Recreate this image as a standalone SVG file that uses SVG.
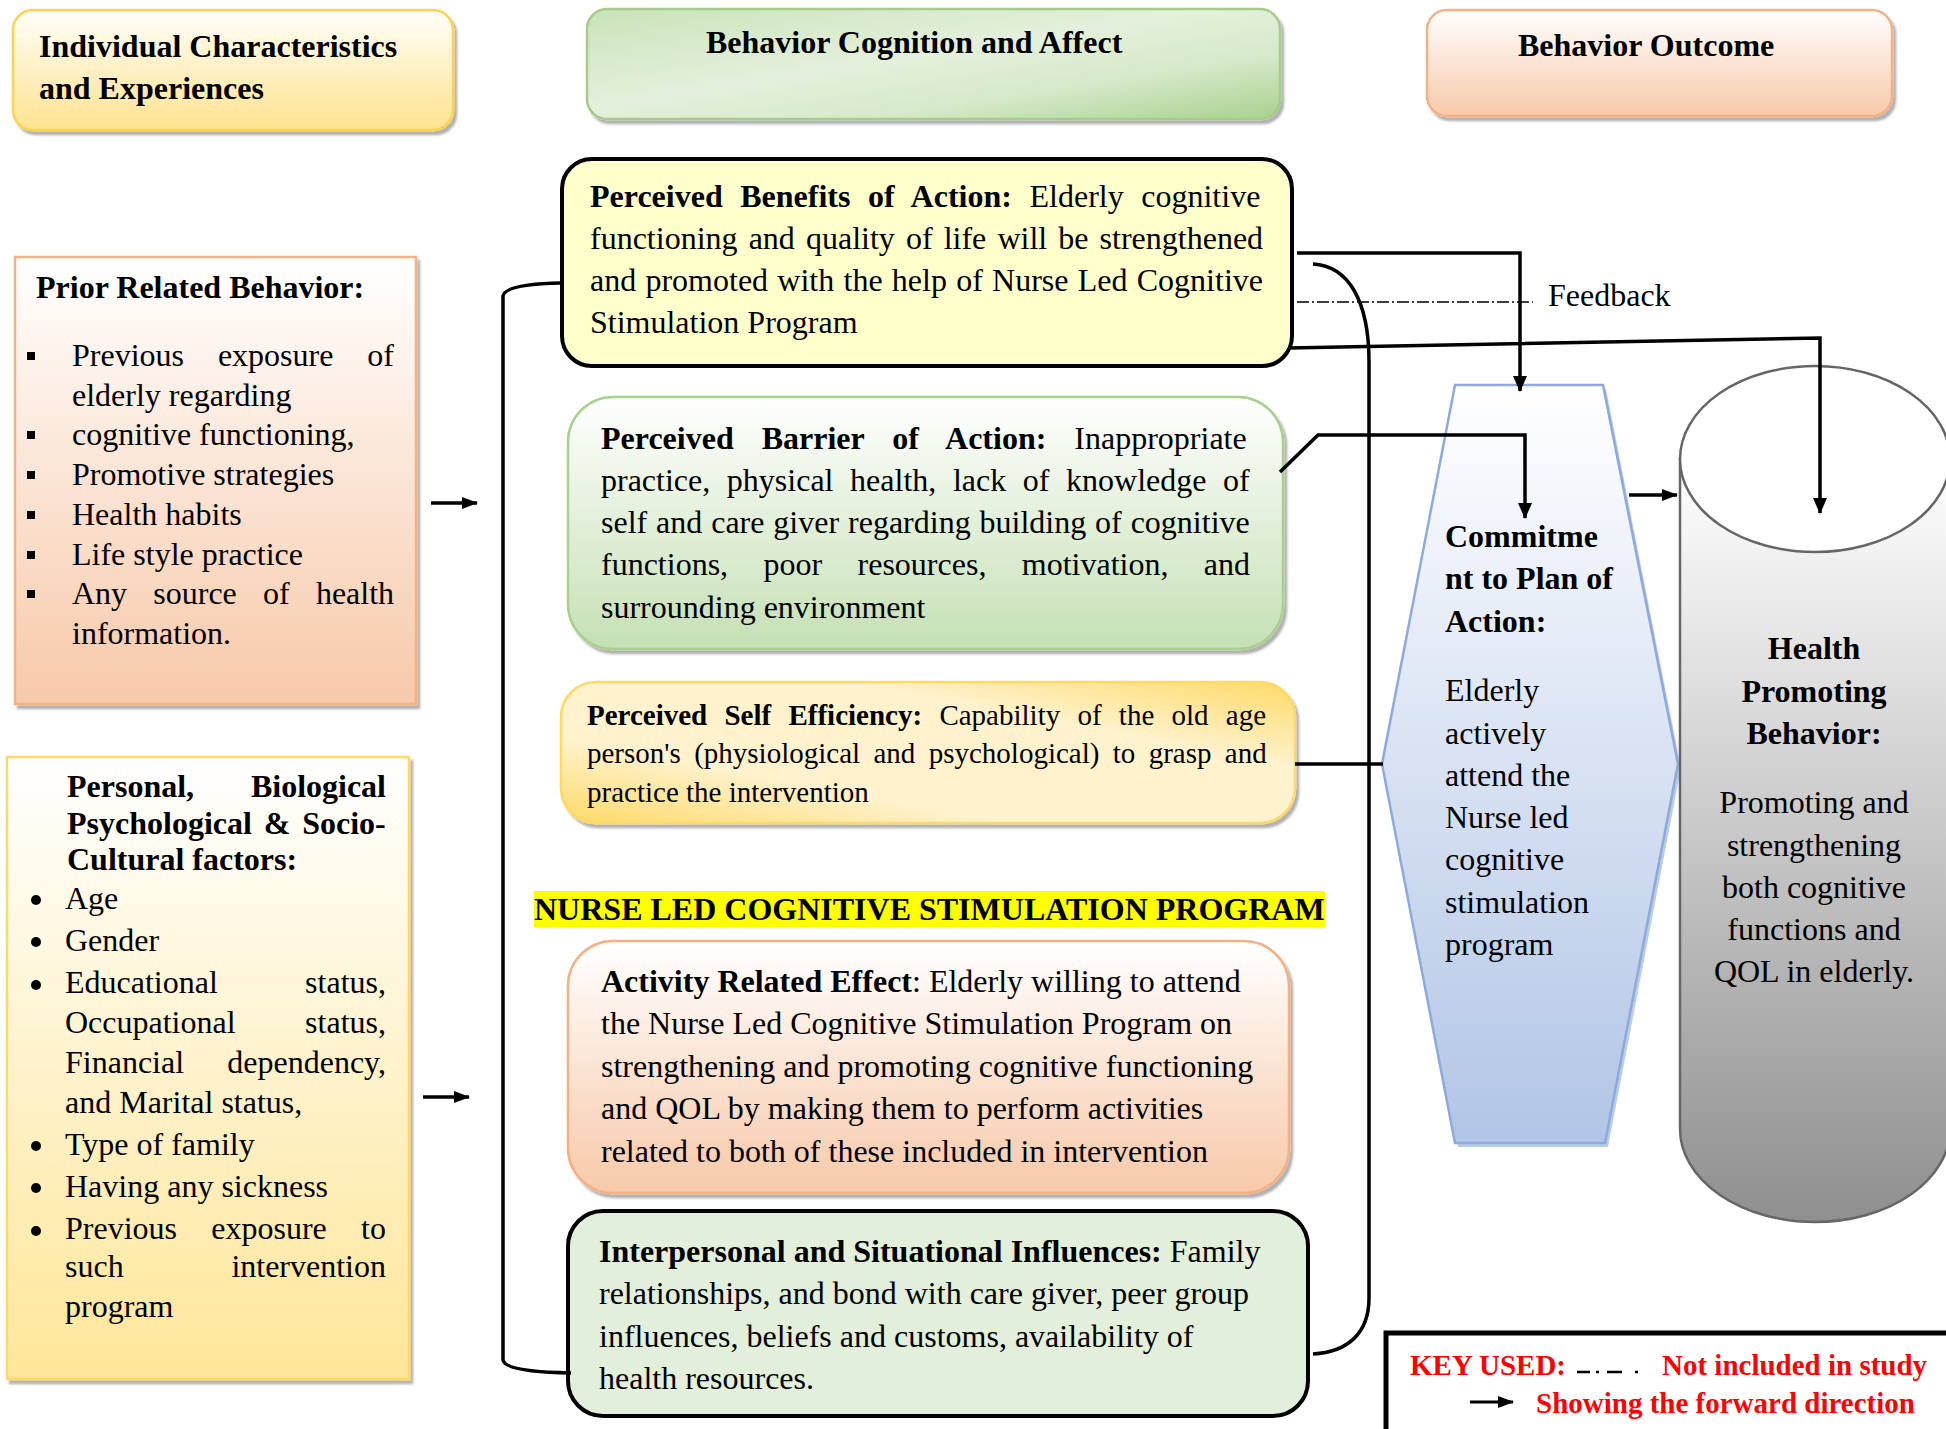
<svg xmlns="http://www.w3.org/2000/svg" width="1946" height="1429" viewBox="0 0 1946 1429">
<defs>
<style>
text{font-family:"Liberation Serif","Times New Roman",serif;font-size:32px;fill:#000}
.b{font-weight:bold}
.k{font-weight:bold;font-size:29px;fill:#ff0000}
.s29{font-size:29px}
.ln{fill:none;stroke:#000;stroke-width:3.5}
</style>
<linearGradient id="gY" x1="0" y1="0" x2="0" y2="1"><stop offset="0" stop-color="#fffefa"/><stop offset="1" stop-color="#ffe38f"/></linearGradient>
<linearGradient id="gY2" x1="0" y1="0" x2="0" y2="1"><stop offset="0" stop-color="#ffffff"/><stop offset="1" stop-color="#ffe699"/></linearGradient>
<linearGradient id="gG" x1="0" y1="0" x2="1" y2="1"><stop offset="0" stop-color="#c9e3b9"/><stop offset="0.45" stop-color="#e4f0dc"/><stop offset="0.7" stop-color="#d6e9ca"/><stop offset="1" stop-color="#a9d18e"/></linearGradient>
<linearGradient id="gG2" x1="0" y1="0" x2="0" y2="1"><stop offset="0" stop-color="#ffffff"/><stop offset="1" stop-color="#c5e0b4"/></linearGradient>
<linearGradient id="gP" x1="0" y1="0" x2="0" y2="1"><stop offset="0" stop-color="#ffffff"/><stop offset="1" stop-color="#f7c9a9"/></linearGradient>
<linearGradient id="gE" x1="0" y1="1" x2="1" y2="0"><stop offset="0" stop-color="#ffd966"/><stop offset="0.3" stop-color="#fff2cc"/><stop offset="0.7" stop-color="#fff2cc"/><stop offset="1" stop-color="#ffd966"/></linearGradient>
<linearGradient id="gB" x1="0" y1="0" x2="0" y2="1"><stop offset="0" stop-color="#ffffff"/><stop offset="1" stop-color="#b1c5e6"/></linearGradient>
<linearGradient id="gC" x1="0" y1="0" x2="0" y2="1"><stop offset="0" stop-color="#ffffff"/><stop offset="1" stop-color="#8f8f8f"/></linearGradient>
<filter id="sh" x="-5%" y="-5%" width="112%" height="120%"><feDropShadow dx="3" dy="4" stdDeviation="1.2" flood-color="#000" flood-opacity="0.3"/></filter>
<marker id="arr" viewBox="0 0 16 14" refX="15" refY="7" markerWidth="16" markerHeight="14" markerUnits="userSpaceOnUse" orient="auto"><path d="M0,0 L16,7 L0,14 z" fill="#000"/></marker>
<marker id="arrs" viewBox="0 0 16 12" refX="15" refY="6" markerWidth="16" markerHeight="12" markerUnits="userSpaceOnUse" orient="auto"><path d="M0,0 L16,6 L0,12 z" fill="#000"/></marker>
</defs>
<rect width="1946" height="1429" fill="#fff"/>

<g id="hdr-individual">
<rect x="13" y="10" width="440" height="120" rx="20" fill="url(#gY)" stroke="#ffd24d" stroke-width="2.5" filter="url(#sh)"/>
<text class="b" x="39" y="57">Individual Characteristics</text>
<text class="b" x="39" y="99">and Experiences</text>
</g>

<g id="hdr-cognition">
<rect x="587" y="9" width="693" height="110" rx="20" fill="url(#gG)" stroke="#a6cc8a" stroke-width="2.5" filter="url(#sh)"/>
<text class="b" x="706" y="53">Behavior Cognition and Affect</text>
</g>

<g id="hdr-outcome">
<rect x="1427" y="10" width="465" height="106" rx="20" fill="url(#gP)" stroke="#f4b183" stroke-width="2.5" filter="url(#sh)"/>
<text class="b" x="1518" y="56">Behavior Outcome</text>
</g>

<g id="prior">
<rect x="15" y="257" width="401" height="447" fill="url(#gP)" stroke="#f4b183" stroke-width="2.5" filter="url(#sh)"/>
<text class="b" x="36" y="298">Prior Related Behavior:</text>
<g fill="#000">
<rect x="27" y="352" width="8" height="8"/>
<rect x="27" y="431" width="8" height="8"/>
<rect x="27" y="471" width="8" height="8"/>
<rect x="27" y="511" width="8" height="8"/>
<rect x="27" y="551" width="8" height="8"/>
<rect x="27" y="590" width="8" height="8"/>
</g>
<text x="72" y="366" word-spacing="25.9">Previous exposure of</text>
<text x="72" y="406">elderly regarding</text>
<text x="72" y="445">cognitive functioning,</text>
<text x="72" y="485">Promotive strategies</text>
<text x="72" y="525">Health habits</text>
<text x="72" y="565">Life style practice</text>
<text x="72" y="604" word-spacing="18.2">Any source of health</text>
<text x="72" y="644">information.</text>
</g>

<g id="personal">
<rect x="7" y="757" width="402" height="622" fill="url(#gY2)" stroke="#ffd966" stroke-width="2.5" filter="url(#sh)"/>
<text class="b" x="67" y="797">Personal,</text>
<text class="b" x="386" y="797" text-anchor="end">Biological</text>
<text class="b" x="67" y="834" word-spacing="3.8">Psychological &amp; Socio-</text>
<text class="b" x="67" y="870">Cultural factors:</text>
<g fill="#000">
<circle cx="36" cy="900" r="5"/>
<circle cx="36" cy="942" r="5"/>
<circle cx="36" cy="985" r="5"/>
<circle cx="36" cy="1146" r="5"/>
<circle cx="36" cy="1188" r="5"/>
<circle cx="36" cy="1231" r="5"/>
</g>
<text x="65" y="909">Age</text>
<text x="65" y="951">Gender</text>
<text x="65" y="993">Educational</text><text x="386" y="993" text-anchor="end">status,</text>
<text x="65" y="1033">Occupational</text><text x="386" y="1033" text-anchor="end">status,</text>
<text x="65" y="1073">Financial</text><text x="386" y="1073" text-anchor="end">dependency,</text>
<text x="65" y="1113">and Marital status,</text>
<text x="65" y="1155">Type of family</text>
<text x="65" y="1197">Having any sickness</text>
<text x="65" y="1239" word-spacing="26.3">Previous exposure to</text>
<text x="65" y="1277">such</text><text x="386" y="1277" text-anchor="end">intervention</text>
<text x="65" y="1317">program</text>
</g>

<g id="benefits">
<rect x="562" y="159" width="730" height="207" rx="30" fill="#ffffcc" stroke="#000" stroke-width="4"/>
<text x="590" y="207" word-spacing="9.6"><tspan class="b">Perceived Benefits of Action:</tspan> Elderly cognitive</text>
<text x="590" y="249" word-spacing="3.1">functioning and quality of life will be strengthened</text>
<text x="590" y="291" word-spacing="1.25">and promoted with the help of Nurse Led Cognitive</text>
<text x="590" y="333">Stimulation Program</text>
</g>

<g id="barrier">
<rect x="568" y="397" width="715" height="252" rx="45" fill="url(#gG2)" stroke="#a9d18e" stroke-width="2.5" filter="url(#sh)"/>
<text x="601" y="449" word-spacing="20"><tspan class="b">Perceived Barrier of Action:</tspan> Inappropriate</text>
<text x="601" y="491" word-spacing="8.6">practice, physical health, lack of knowledge of</text>
<text x="601" y="533" word-spacing="0.9">self and care giver regarding building of cognitive</text>
<text x="601" y="575" word-spacing="27.4">functions, poor resources, motivation, and</text>
<text x="601" y="618">surrounding environment</text>
</g>

<g id="efficiency">
<rect x="561" y="682" width="734" height="141" rx="35" fill="url(#gE)" stroke="#ffd966" stroke-width="2.5" filter="url(#sh)"/>
<text class="s29" x="587" y="725" word-spacing="10"><tspan class="b">Perceived Self Efficiency:</tspan> Capability of the old age</text>
<text class="s29" x="587" y="763" word-spacing="6.1">person's (physiological and psychological) to grasp and</text>
<text class="s29" x="587" y="802">practice the intervention</text>
</g>

<g id="program-title">
<rect x="534" y="891" width="791" height="36" fill="#ffff00"/>
<text class="b" x="534" y="920">NURSE LED COGNITIVE STIMULATION PROGRAM</text>
</g>

<g id="activity">
<rect x="568" y="941" width="721" height="252" rx="45" fill="url(#gP)" stroke="#f4b183" stroke-width="2.5" filter="url(#sh)"/>
<text x="601" y="992"><tspan class="b">Activity Related Effect</tspan>: Elderly willing to attend</text>
<text x="601" y="1034">the Nurse Led Cognitive Stimulation Program on</text>
<text x="601" y="1077">strengthening and promoting cognitive functioning</text>
<text x="601" y="1119">and QOL by making them to perform activities</text>
<text x="601" y="1162">related to both of these included in intervention</text>
</g>

<g id="interpersonal">
<rect x="568" y="1211" width="740" height="205" rx="35" fill="#e2efda" stroke="#000" stroke-width="4"/>
<text x="599" y="1262"><tspan class="b">Interpersonal and Situational Influences:</tspan> Family</text>
<text x="599" y="1304">relationships, and bond with care giver, peer group</text>
<text x="599" y="1347">influences, beliefs and customs, availability of</text>
<text x="599" y="1389">health resources.</text>
</g>

<g id="commitment">
<polygon points="1458,389 1606,389 1681,768 1608,1147 1458,1147 1385,768" fill="#8eaadb" opacity="0.6"/>
<polygon points="1455,385 1603,385 1678,764 1605,1143 1455,1143 1382,764" fill="url(#gB)" stroke="#8eaadb" stroke-width="2.5"/>
<text class="b" x="1445" y="547">Commitme</text>
<text class="b" x="1445" y="589">nt to Plan of</text>
<text class="b" x="1445" y="632">Action:</text>
<text x="1445" y="701">Elderly</text>
<text x="1445" y="744">actively</text>
<text x="1445" y="786">attend the</text>
<text x="1445" y="828">Nurse led</text>
<text x="1445" y="870">cognitive</text>
<text x="1445" y="913">stimulation</text>
<text x="1445" y="955">program</text>
</g>

<g id="health-behavior">
<path d="M1680,459 L1680,1129 A135,93 0 0 0 1950,1129 L1950,459 Z" fill="url(#gC)" stroke="#666" stroke-width="2.5"/>
<ellipse cx="1815" cy="459" rx="135" ry="93" fill="#fff" stroke="#666" stroke-width="2.5"/>
<text class="b" x="1814" y="659" text-anchor="middle">Health</text>
<text class="b" x="1814" y="702" text-anchor="middle">Promoting</text>
<text class="b" x="1814" y="744" text-anchor="middle">Behavior:</text>
<text x="1814" y="813" text-anchor="middle">Promoting and</text>
<text x="1814" y="856" text-anchor="middle">strengthening</text>
<text x="1814" y="898" text-anchor="middle">both cognitive</text>
<text x="1814" y="940" text-anchor="middle">functions and</text>
<text x="1814" y="982" text-anchor="middle">QOL in elderly.</text>
</g>

<g id="feedback-label">
<text x="1548" y="306">Feedback</text>
</g>

<g id="connectors">
<path class="ln" d="M561,283 Q505,284 503,296 L503,1360 Q505,1372 571,1373"/>
<path class="ln" d="M431,503 L477,503" stroke-width="3" marker-end="url(#arrs)"/>
<path class="ln" d="M423,1097 L469,1097" stroke-width="3" marker-end="url(#arrs)"/>
<path class="ln" d="M1297,253 L1520,253 L1520,391" marker-end="url(#arr)"/>
<path d="M1297,302 L1533,302" fill="none" stroke="#000" stroke-width="1.6" stroke-dasharray="12 3 2 3"/>
<path class="ln" d="M1313,264 C1348,266 1369,300 1369,362 L1369,1298 C1369,1333 1348,1352 1313,1354"/>
<path class="ln" d="M1288,348 L1820,338 L1820,513" marker-end="url(#arr)"/>
<path class="ln" d="M1280,472 L1318,435 L1525,435 L1525,518" marker-end="url(#arr)"/>
<path class="ln" d="M1295,764 L1383,764"/>
<path class="ln" d="M1629,495 L1677,495" stroke-width="3" marker-end="url(#arrs)"/>
</g>

<g id="key">
<rect x="1386" y="1333" width="580" height="120" fill="#fff" stroke="#000" stroke-width="5"/>
<text class="k" x="1410" y="1375">KEY USED:</text>
<path d="M1577,1372 L1590,1372 M1596,1372 L1599,1372 M1607,1372 L1622,1372 M1635,1372 L1638,1372" stroke="#000" stroke-width="2.5" fill="none"/>
<text class="k" x="1662" y="1375">Not included in study</text>
<path d="M1470,1402 L1513,1402" stroke="#000" stroke-width="3" fill="none" marker-end="url(#arrs)"/>
<text class="k" x="1536" y="1413">Showing the forward direction</text>
</g>
</svg>
